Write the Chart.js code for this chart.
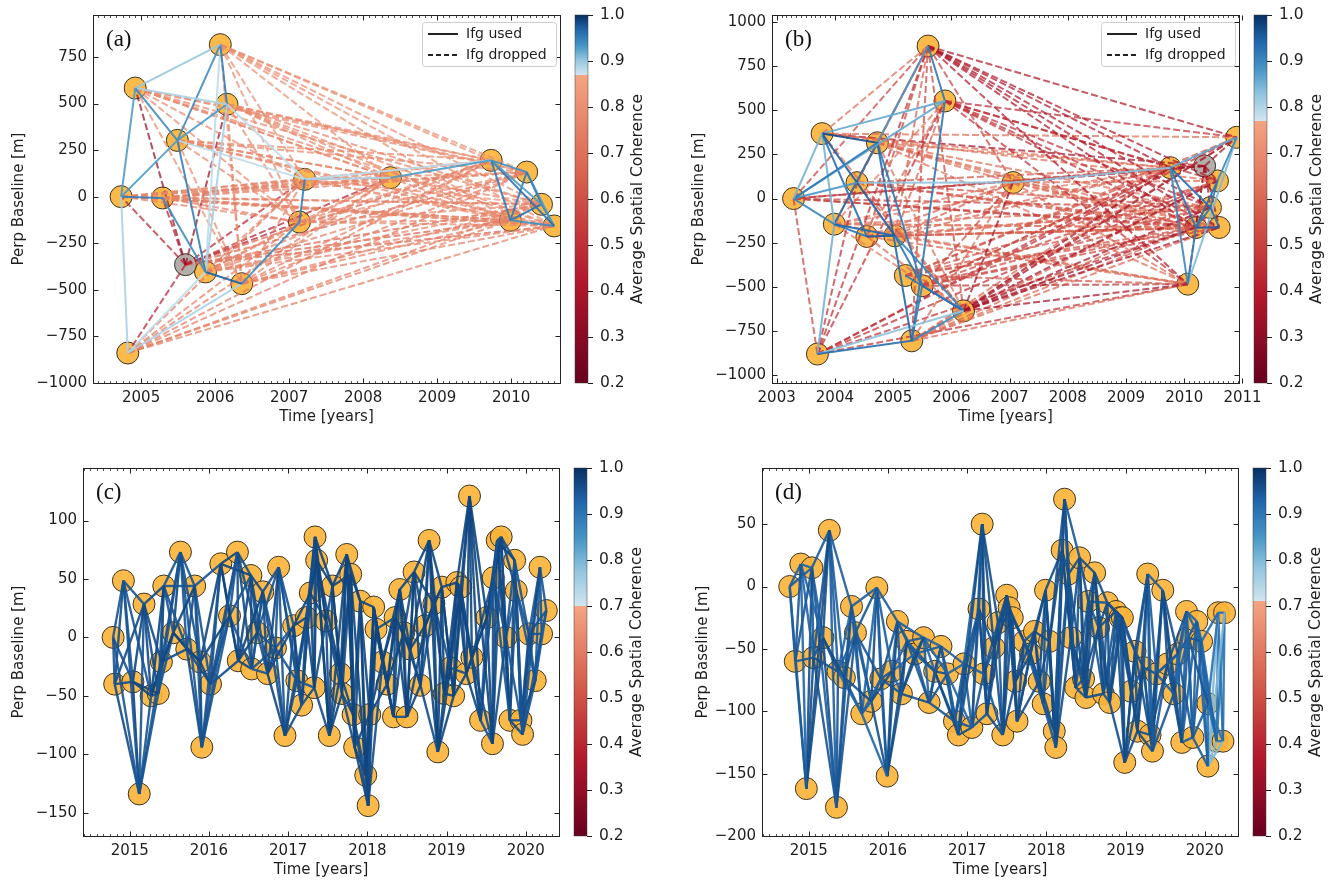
<!DOCTYPE html>
<html><head><meta charset="utf-8">
<script src="https://cdn.jsdelivr.net/npm/chart.js@4.4.0/dist/chart.umd.min.js"></script>
<style>
body{margin:0;background:#fff;width:1336px;height:884px;position:relative;overflow:hidden}
.p{position:absolute}
canvas{display:block}
</style></head><body>
<div class="p" style="left:0;top:0"><canvas id="ca" width="668" height="440"></canvas></div>
<div class="p" style="left:668px;top:0"><canvas id="cb" width="668" height="440"></canvas></div>
<div class="p" style="left:0;top:440px"><canvas id="cc" width="668" height="444"></canvas></div>
<div class="p" style="left:668px;top:440px"><canvas id="cd" width="668" height="444"></canvas></div>
<script>
// ---------------- DATA ----------------
const legendLabels = ['Ifg used', 'Ifg dropped'];
const cbTicks = [0.2,0.3,0.4,0.5,0.6,0.7,0.8,0.9,1.0];

// Panel (a)
const aTime  = [2004.73,2004.82,2004.92,2005.29,2005.49,2005.60,2005.87,2006.07,2006.16,2006.36,2007.14,2007.21,2008.37,2009.73,2009.99,2010.21,2010.41,2010.58];
const aBperp = [0,-839,583,-7,302,-365,-404,816,496,-467,-136,93,102,195,-127,132,-41,-157];
const aRef = 5;
const aUsed = [[0,1,0.89],[0,2,0.93],[0,3,0.95],[0,4,0.93],[2,4,0.94],[2,7,0.90],[2,8,0.89],[4,7,0.94],[4,8,0.93],[4,6,0.95],[3,6,0.94],[7,8,0.95],[8,6,0.89],[7,6,0.88],[6,9,0.97],[9,10,0.94],[10,11,0.95],[11,12,0.89],[12,13,0.93],[11,13,0.88],[13,14,0.95],[13,15,0.94],[13,16,0.93],[13,17,0.96],[14,15,0.95],[14,17,0.94],[15,16,0.95],[15,17,0.93],[16,17,0.95],[14,16,0.96],[1,9,0.89],[1,6,0.88],[8,11,0.88],[4,11,0.88]];
const aDropped = [[0,[10,11,12,13,14,15,16,17],0.76],[1,[10,11,12,13,14,15,16,17],0.74],[2,[9,10,11,12,13,14,15,16,17],0.78],[3,[10,11,12,13,14,15,16,17],0.75],[4,[9,10,12,13,14,15,16,17],0.77],[6,[10,11,12,13,14,15,16,17],0.76],[7,[9,10,11,12,13,14,15,16,17],0.79],[8,[9,10,12,13,14,15,16,17],0.77],[9,[11,12,13,14,15,16,17],0.75],[10,[12,13,14,15,16,17],0.78],[11,[14,15,16,17],0.80],[5,[2,8],0.33],[5,[0,1,3,10,11,12],0.45],[5,[13,14,15,16,17],0.66]];
const aXTicks = [2005,2006,2007,2008,2009,2010];
const aYTicks = [-1000,-750,-500,-250,0,250,500,750];

// Panel (b)
const bTime  = [2003.29,2003.70,2003.78,2003.99,2004.38,2004.55,2004.73,2005.03,2005.21,2005.32,2005.50,2005.60,2005.89,2006.21,2007.06,2009.76,2010.06,2010.20,2010.35,2010.45,2010.57,2010.60,2010.90];
const bBperp = [0,-881,368,-145,90,-215,316,-211,-436,-806,-494,864,553,-636,91,175,-485,-164,185,-51,100,-164,347];
const bRef = 18;
const bUsed = [[0,2,0.85],[0,3,0.90],[0,6,0.92],[0,4,0.88],[0,12,0.86],[2,6,0.97],[2,12,0.86],[2,7,0.95],[2,5,0.93],[2,3,0.85],[3,7,0.94],[3,5,0.92],[3,6,0.93],[4,14,0.83],[6,9,0.94],[6,10,0.92],[6,11,0.88],[1,9,0.93],[1,3,0.85],[1,13,0.83],[9,12,0.92],[9,13,0.90],[10,13,0.93],[8,13,0.92],[7,10,0.92],[5,7,0.95],[11,12,0.92],[14,15,0.83],[15,16,0.90],[15,17,0.92],[15,19,0.93],[16,17,0.91],[17,21,0.95],[19,21,0.93],[17,19,0.92],[19,20,0.92],[20,22,0.90],[15,22,0.86],[16,22,0.84],[17,20,0.93],[9,10,0.91],[7,13,0.90]];
const bDropped = [[11,[15,16,17,19,20,21,22],0.38],[12,[15,16,17,19,20,21,22],0.45],[13,[14,15,16,17,19,20,21,22],0.35],[10,[14,15,16,17,19,20,21,22],0.52],[8,[15,16,17,19,20,21,22],0.55],[9,[14,15,16,17,19,20,21,22],0.60],[0,[1,11,15,17,19,21],0.50],[1,[4,11,12,15,16,17,20,22],0.45],[2,[11,13,15,20,22],0.62],[3,[11,12,13,14,15,16,17,19,21],0.65],[4,[11,13,15,17,19,21],0.55],[5,[12,13,14,15,16,17,19,21],0.60],[6,[13,14,15,16,17,19,21],0.62],[7,[11,12,14,15,16,17,19,21],0.58],[14,[16,17,19,20,21],0.62],[11,[3,5,9,13,14],0.50],[10,[16],0.79],[18,[0,2,14,15,16,17,19,20,21,22],0.35]];
const bXTicks = [2003,2004,2005,2006,2007,2008,2009,2010,2011];
const bYTicks = [-1000,-750,-500,-250,0,250,500,750,1000];

// Panel (c)
const cTime = [2014.79,2014.81,2014.92,2015.04,2015.12,2015.18,2015.27,2015.36,2015.40,2015.43,2015.55,2015.64,2015.72,2015.82,2015.89,2015.91,2016.02,2016.15,2016.26,2016.36,2016.37,2016.53,2016.54,2016.61,2016.68,2016.74,2016.84,2016.88,2016.96,2017.07,2017.11,2017.17,2017.23,2017.28,2017.33,2017.34,2017.36,2017.48,2017.52,2017.56,2017.66,2017.68,2017.74,2017.79,2017.82,2017.84,2017.91,2017.98,2018.01,2018.03,2018.08,2018.11,2018.19,2018.25,2018.33,2018.35,2018.41,2018.46,2018.50,2018.54,2018.59,2018.67,2018.73,2018.78,2018.84,2018.89,2018.94,2018.97,2019.05,2019.09,2019.13,2019.18,2019.25,2019.29,2019.32,2019.43,2019.51,2019.58,2019.59,2019.64,2019.69,2019.75,2019.80,2019.86,2019.88,2019.94,2019.96,2020.04,2020.12,2020.18,2020.20,2020.26];
const cBperp = [0,-40,48.5,-38,-134,28.5,-50,-48,-21,44,4,73,-10,44,-21,-94,-40,63,18.5,73,-20,53,-27,4,39,-31,-9,60,-84,10,-37,-58,17,38,-43,86,66,14,-84,44,-31,-48,71,54,-66,-94,31,-118,-144,-66,26,7,-21,-40,-68,17,41,4,-68,-10,56,-41,10,83,29,-98,43,-48,-26,-50,47,43,-31,121,-17,-71,17,-91,51,83,86,0,-71,66,40,-71,-83,3,-37,60,3,23];
const cCoh = [0.95,0.96,0.95,0.97,0.95,0.96,0.97,0.95,0.96,0.95,0.97,0.95,0.96,0.95,0.97,0.95,0.96,0.97,0.95,0.96,0.97,0.96,0.95,0.95,0.96,0.97,0.95,0.95,0.96,0.97,0.95,0.96,0.97,0.97,0.96,0.97,0.97,0.96,0.97,0.97,0.97,0.96,0.97,0.97,0.96,0.97,0.97,0.97,0.96,0.97,0.97,0.96,0.97,0.97,0.96,0.97,0.97,0.96,0.97,0.97,0.97,0.96,0.97,0.97,0.96,0.97,0.97,0.97,0.96,0.97,0.97,0.96,0.97,0.97,0.96,0.95,0.97,0.96,0.95,0.97,0.96,0.95,0.96,0.95,0.95,0.96,0.95,0.95,0.94,0.95,0.95,0.95];
const cLinksPerDate = 4;
const cXTicks = [2015,2016,2017,2018,2019,2020];
const cYTicks = [-150,-100,-50,0,50,100];

// Panel (d)
const dTime = [2014.76,2014.83,2014.90,2014.97,2015.04,2015.06,2015.18,2015.26,2015.35,2015.37,2015.45,2015.54,2015.59,2015.67,2015.79,2015.86,2015.91,2015.99,2016.05,2016.12,2016.17,2016.24,2016.34,2016.45,2016.52,2016.59,2016.67,2016.75,2016.84,2016.89,2016.96,2017.06,2017.15,2017.19,2017.21,2017.25,2017.34,2017.39,2017.45,2017.50,2017.53,2017.57,2017.61,2017.63,2017.72,2017.80,2017.85,2017.91,2017.96,2017.99,2018.04,2018.10,2018.12,2018.20,2018.23,2018.28,2018.31,2018.37,2018.42,2018.47,2018.50,2018.53,2018.61,2018.66,2018.72,2018.77,2018.80,2018.88,2018.93,2018.96,2018.99,2019.07,2019.12,2019.15,2019.23,2019.28,2019.31,2019.34,2019.39,2019.47,2019.53,2019.61,2019.66,2019.71,2019.77,2019.79,2019.85,2019.90,2019.96,2020.04,2020.04,2020.15,2020.17,2020.23,2020.25];
const dBperp = [0,-60,18,-162,15,-57,-41,45,-177,-68,-73,-16,-37,-102,-92,-1,-74,-152,-68,-28,-86,-44,-54,-41,-93,-68,-48,-70,-108,-119,-62,-113,-18,50,-70,-102,-49,-29,-119,-7,-17,-25,-76,-108,-44,-54,-36,-76,-94,-3,-44,-116,-129,29,70,10,-41,-81,23,-74,-89,-12,11,-33,-86,-13,-93,-20,-25,-25,-141,-84,-52,-116,-65,10,-119,-132,-70,-3,-62,-86,-54,-125,-20,-41,-121,-28,-44,-94,-144,-124,-21,-124,-21];
const dCoh = [0.94,0.95,0.93,0.96,0.94,0.95,0.96,0.94,0.95,0.93,0.96,0.94,0.95,0.93,0.96,0.94,0.95,0.96,0.93,0.94,0.96,0.95,0.94,0.93,0.95,0.96,0.94,0.93,0.95,0.96,0.94,0.95,0.96,0.96,0.95,0.96,0.96,0.95,0.96,0.96,0.96,0.95,0.96,0.96,0.95,0.96,0.96,0.96,0.95,0.96,0.96,0.95,0.96,0.96,0.95,0.96,0.96,0.95,0.96,0.96,0.96,0.95,0.96,0.96,0.95,0.96,0.96,0.96,0.95,0.96,0.96,0.95,0.96,0.96,0.95,0.94,0.96,0.95,0.94,0.96,0.95,0.93,0.95,0.94,0.93,0.95,0.94,0.93,0.92,0.91,0.80,0.90,0.92,0.91,0.92];
const dLinksPerDate = 4;
const dXTicks = [2015,2016,2017,2018,2019,2020];
const dYTicks = [-200,-150,-100,-50,0,50];

// ---------------- COLOUR MAP (RdBu, white band removed) ----------------
const RDBU = ['#67001f','#b2182b','#d6604d','#f4a582','#fddbc7','#f7f7f7','#d1e5f0','#92c5de','#4393c3','#2166ac','#053061'];
const RDBU_RGB = RDBU.map(h => [parseInt(h.slice(1,3),16), parseInt(h.slice(3,5),16), parseInt(h.slice(5,7),16)]);
function rdbu(t){
  t = Math.max(0, Math.min(1, t));
  const p = t*10, i = Math.min(9, Math.floor(p)), f = p - i;
  const a = RDBU_RGB[i], b = RDBU_RGB[i+1];
  return [0,1,2].map(k => Math.round(a[k] + (b[k]-a[k])*f));
}
function cmap(v, thr, alpha){
  v = Math.max(0.2, Math.min(1, v));
  const t = v < thr ? (v-0.2)/(thr-0.2)*0.3 : 0.6 + (v-thr)/(1-thr)*0.4;
  const c = rdbu(t);
  return `rgba(${c[0]},${c[1]},${c[2]},${alpha})`;
}

// ---------------- EDGE LISTS ----------------
function explicitEdges(used, dropped){
  const e = [];
  dropped.forEach(r => r[1].forEach(j => e.push([r[0], j, r[2], true])));
  used.forEach(u => e.push([u[0], u[1], u[2], false]));
  return e;
}
function neighbourEdges(n, k, coh){
  const e = [];
  for (let i = 0; i < n; i++)
    for (let j = i+1; j <= Math.min(n-1, i+k); j++) e.push([i, j, coh[i] ?? coh[coh.length-1], false]);
  return e;
}

const FONT = 'DejaVu Sans';
const TXT = '#1e1e1e';
const fmt = v => (v < 0 ? '\u2212' + Math.abs(v) : String(v));

// ---------------- FRAME / COLORBAR / LEGEND PLUGIN ----------------
function ln(ctx, x1, y1, x2, y2){ ctx.beginPath(); ctx.moveTo(x1,y1); ctx.lineTo(x2,y2); ctx.stroke(); }
const framePlugin = {
  id: 'frame',
  afterDraw(chart){
    const o = chart.options.plugins.frame;
    const {ctx, chartArea: ca} = chart;
    const x = chart.scales.x, y = chart.scales.y, cb = chart.scales.cb;
    ctx.save();
    // colour bar
    const bx = Math.round(ca.right) + 15, bw = 13;
    for (let py = Math.round(ca.top); py < Math.round(ca.bottom); py++){
      ctx.fillStyle = cmap(cb.getValueForPixel(py + 0.5), o.thr, 1);
      ctx.fillRect(bx, py, bw, 1);
    }
    ctx.strokeStyle = 'rgba(60,60,60,0.6)'; ctx.lineWidth = 0.8;
    ctx.strokeRect(bx, Math.round(ca.top), bw, Math.round(ca.bottom) - Math.round(ca.top));
    ctx.strokeStyle = TXT; ctx.lineWidth = 1;
    cb.ticks.forEach(t => { const py = Math.round(cb.getPixelForValue(t.value)) + 0.5; ln(ctx, bx+bw, py, bx+bw+5, py); });
    ctx.save();
    ctx.translate(ca.right + 78, (ca.top + ca.bottom)/2);
    ctx.rotate(-Math.PI/2);
    ctx.font = `15.5px "${FONT}"`; ctx.fillStyle = TXT; ctx.textAlign = 'center'; ctx.textBaseline = 'middle';
    ctx.fillText('Average Spatial Coherence', 0, 0);
    ctx.restore();
    // axes box
    const L = Math.round(ca.left)+0.5, R = Math.round(ca.right)+0.5, T = Math.round(ca.top)+0.5, B = Math.round(ca.bottom)+0.5;
    ctx.strokeStyle = '#222'; ctx.lineWidth = 1;
    ctx.strokeRect(L, T, R-L, B-T);
    x.ticks.forEach(t => { const px = Math.round(x.getPixelForValue(t.value))+0.5; ln(ctx, px, B, px, B-5); ln(ctx, px, T, px, T+5); });
    ctx.lineWidth = 0.8;
    for (let m = Math.ceil(x.min*12); m <= Math.floor(x.max*12); m++){
      const px = Math.round(x.getPixelForValue(m/12))+0.5; ln(ctx, px, B, px, B-2.5); ln(ctx, px, T, px, T+2.5);
    }
    ctx.lineWidth = 1;
    y.ticks.forEach(t => { const py = Math.round(y.getPixelForValue(t.value))+0.5; ln(ctx, L, py, L+5, py); ln(ctx, R, py, R-5, py); });
    // panel label
    ctx.font = `23px "Liberation Serif"`; ctx.fillStyle = '#111'; ctx.textAlign = 'left'; ctx.textBaseline = 'alphabetic';
    ctx.fillText(o.label, ca.left + 13, ca.top + 31);
    // legend
    if (o.legend){
      const lw = 134, lh = 44, lx = ca.right - 4 - lw, ly = ca.top + 7;
      ctx.fillStyle = 'rgba(255,255,255,0.85)'; ctx.strokeStyle = '#cfcfcf'; ctx.lineWidth = 1;
      ctx.beginPath(); ctx.roundRect(lx+0.5, ly+0.5, lw, lh, 3); ctx.fill(); ctx.stroke();
      ctx.font = `14px "${FONT}"`; ctx.fillStyle = TXT; ctx.textBaseline = 'middle';
      legendLabels.forEach((lab, i) => {
        const yy = ly + 12 + i*21;
        ctx.strokeStyle = '#222'; ctx.lineWidth = 2; ctx.setLineDash(i ? [5,3] : []);
        ln(ctx, lx + 6, yy, lx + 36, yy);
        ctx.setLineDash([]);
        ctx.fillText(lab, lx + 44, yy);
      });
    }
    ctx.restore();
  }
};

// ---------------- PANEL BUILDER ----------------
function makePanel(id, P){
  const pts = P.time.map((t,i) => ({x: t, y: P.bperp[i]}));
  const ds = [];
  ds.push({data: pts.filter((_, i) => i !== P.ref), pointRadius: 11, backgroundColor: 'rgba(251,180,58,0.92)', pointBackgroundColor: 'rgba(251,180,58,0.92)', pointBorderColor: '#3b3422', borderColor: '#3b3422', pointBorderWidth: 1, order: 30});
  if (P.ref != null) ds.push({data: [pts[P.ref]], pointRadius: 11, backgroundColor: 'rgba(165,160,155,0.85)', pointBackgroundColor: 'rgba(165,160,155,0.85)', pointBorderColor: '#3b3422', borderColor: '#3b3422', pointBorderWidth: 1, order: 29});
  P.edges.forEach(e => ds.push({
    data: [pts[e[0]], pts[e[1]]], showLine: true, pointRadius: 0, pointHoverRadius: 0,
    borderColor: cmap(e[2], P.thr, e[3] ? 0.72 : 0.9), borderWidth: P.lw,
    borderDash: e[3] ? [7,3] : [], order: e[3] ? 10 : 5
  }));
  const tickFont = {family: FONT, size: 15};
  const vPad = s => { s.paddingTop = 9; s.paddingBottom = 9; };
  const chart = new Chart(document.getElementById(id), {
    type: 'scatter',
    data: {datasets: ds},
    plugins: [framePlugin],
    options: {
      responsive: false, animation: false, devicePixelRatio: 1, events: [],
      layout: {autoPadding: false, padding: {left: 0, right: 0, top: P.top, bottom: 0}},
      plugins: {legend: {display: false}, tooltip: {enabled: false},
        frame: {thr: P.thr, label: P.label, legend: P.legend}},
      scales: {
        x: {type: 'linear', position: 'bottom', min: P.xr[0], max: P.xr[1],
          grid: {display: false, drawTicks: false}, border: {display: false},
          afterBuildTicks: s => { s.ticks = P.xTicks.map(v => ({value: v})); },
          afterFit: s => { s.height = P.xh; },
          ticks: {padding: 6, color: TXT, font: tickFont, callback: v => String(v), maxRotation: 0, autoSkip: false},
          title: {display: true, text: 'Time [years]', color: TXT, font: tickFont, padding: {top: 0, bottom: P.xtPad}}},
        y: {type: 'linear', position: 'left', min: P.yr[0], max: P.yr[1],
          grid: {display: false, drawTicks: false}, border: {display: false},
          afterBuildTicks: s => { s.ticks = P.yTicks.map(v => ({value: v})); },
          afterFit: s => { s.width = P.yw; vPad(s); },
          ticks: {padding: 6, color: TXT, font: tickFont, callback: fmt, autoSkip: false},
          title: {display: true, text: 'Perp Baseline [m]', color: TXT, font: tickFont, padding: {top: P.ytPad, bottom: 0}}},
        cb: {type: 'linear', position: 'right', min: 0.2, max: 1.0,
          grid: {display: false, drawTicks: false}, border: {display: false},
          afterBuildTicks: s => { s.ticks = cbTicks.map(v => ({value: v})); },
          afterFit: s => { s.width = P.cbw; vPad(s); },
          ticks: {padding: 40, color: TXT, font: {family: FONT, size: 15.5}, callback: v => v.toFixed(1), autoSkip: false}}
      }
    }
  });
  for (let k = 0; k < 4; k++){
    const d = P.top - chart.chartArea.top;
    if (Math.abs(d) < 0.5) break;
    chart.options.layout.padding.top += d;
    chart.update();
  }
}

makePanel('ca', {time: aTime, bperp: aBperp, ref: aRef, edges: explicitEdges(aUsed, aDropped), thr: 0.87, lw: 2,
  xr: [2004.35, 2010.66], yr: [-1000, 975], xTicks: aXTicks, yTicks: aYTicks,
  top: 15, xh: 57, yw: 93, cbw: 108, xtPad: 14, ytPad: 10, label: '(a)', legend: true});
makePanel('cb', {time: bTime, bperp: bBperp, ref: bRef, edges: explicitEdges(bUsed, bDropped), thr: 0.77, lw: 2,
  xr: [2002.92, 2010.94], yr: [-1045, 1040], xTicks: bXTicks, yTicks: bYTicks,
  top: 15, xh: 57, yw: 104, cbw: 97, xtPad: 14, ytPad: 22, label: '(b)', legend: true});
makePanel('cc', {time: cTime, bperp: cBperp, ref: null, edges: neighbourEdges(cTime.length, cLinksPerDate, cCoh), thr: 0.70, lw: 2.4,
  xr: [2014.41, 2020.42], yr: [-170, 145], xTicks: cXTicks, yTicks: cYTicks,
  top: 28, xh: 48, yw: 83, cbw: 109, xtPad: 5, ytPad: 10, label: '(c)', legend: false});
makePanel('cd', {time: dTime, bperp: dBperp, ref: null, edges: neighbourEdges(dTime.length, dLinksPerDate, dCoh), thr: 0.71, lw: 2.4,
  xr: [2014.41, 2020.42], yr: [-200, 95], xTicks: dXTicks, yTicks: dYTicks,
  top: 28, xh: 48, yw: 94, cbw: 98, xtPad: 5, ytPad: 26, label: '(d)', legend: false});
</script>
</body></html>
